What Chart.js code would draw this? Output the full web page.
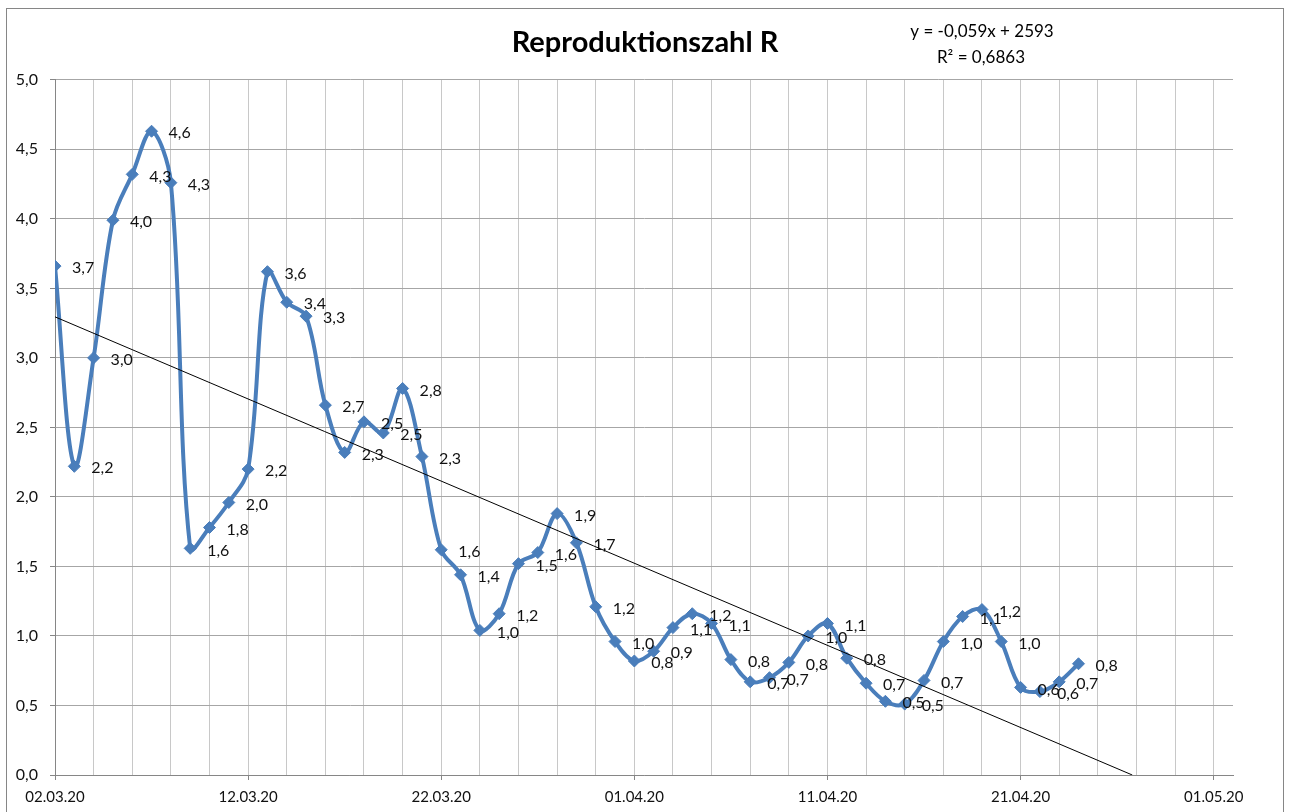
<!DOCTYPE html>
<html>
<head>
<meta charset="utf-8">
<script src="https://cdn.jsdelivr.net/npm/chart.js@4.4.0/dist/chart.umd.min.js"></script>
<style>
    html, body { margin: 0; padding: 0; background: #fff; }
    #wrap { width: 1290px; height: 812px; }
</style>
</head>
<body>
<div id="wrap"><canvas id="rChart" width="1290" height="812"></canvas></div>
<script>
// one value per day, starting 02.03.20
const rValues = [
    3.66, 2.22, 3.00, 3.99, 4.32, 4.63, 4.26, 1.63, 1.78, 1.96,
    2.20, 3.62, 3.40, 3.30, 2.66, 2.32, 2.54, 2.46, 2.78, 2.29,
    1.62, 1.44, 1.04, 1.16, 1.52, 1.60, 1.88, 1.67, 1.21, 0.96,
    0.82, 0.89, 1.06, 1.16, 1.09, 0.83, 0.67, 0.70, 0.81, 1.00,
    1.09, 0.84, 0.66, 0.53, 0.51, 0.68, 0.96, 1.14, 1.19, 0.96,
    0.63, 0.60, 0.67, 0.80
];
const tickDays = [0, 10, 20, 30, 40, 50, 60];
const tickLabels = ['02.03.20', '12.03.20', '22.03.20', '01.04.20', '11.04.20', '21.04.20', '01.05.20'];
const trendText = ['y = -0,059x + 2593', 'R\u00b2 = 0,6863'];

const fmt = v => v.toFixed(1).replace('.', ',');

// linear trend over the day index
const n = rValues.length;
const mx = (n - 1) / 2;
const my = rValues.reduce((a, b) => a + b, 0) / n;
let sxy = 0, sxx = 0;
rValues.forEach((v, i) => { sxy += (i - mx) * (v - my); sxx += (i - mx) * (i - mx); });
const slope = sxy / sxx;
const icpt = my - slope * mx;
const xZero = -icpt / slope;

const FONT = 'Lato';

const frame = {
    id: 'frame',
    beforeDraw(chart) {
        const ctx = chart.ctx;
        ctx.save();
        ctx.fillStyle = '#fff';
        ctx.fillRect(0, 0, chart.width, chart.height);
        ctx.strokeStyle = '#868686';
        ctx.lineWidth = 1;
        ctx.strokeRect(6.5, 8.5, 1277, 820);
        ctx.restore();
    },
    afterDraw(chart) {
        const ctx = chart.ctx;
        ctx.save();
        ctx.font = '17px ' + FONT;
        ctx.fillStyle = '#000';
        ctx.textAlign = 'center';
        ctx.textBaseline = 'middle';
        ctx.fillText(trendText[0], 982, 32);
        ctx.fillText(trendText[1], 981, 58);
        ctx.restore();
    }
};

const pointLabels = {
    id: 'pointLabels',
    afterDatasetsDraw(chart) {
        const meta = chart.getDatasetMeta(1);
        const ctx = chart.ctx;
        ctx.save();
        ctx.font = '16px ' + FONT;
        ctx.fillStyle = '#111';
        ctx.textBaseline = 'middle';
        meta.data.forEach((pt, i) => {
            ctx.fillText(fmt(rValues[i]), pt.x + 17, pt.y + 2);
        });
        ctx.restore();
    }
};

new Chart(document.getElementById('rChart'), {
    type: 'line',
    data: {
        datasets: [
            {
                label: 'Trend',
                data: [{ x: 0, y: icpt }, { x: xZero, y: 0 }],
                borderColor: '#000',
                borderWidth: 1,
                pointRadius: 0,
                tension: 0,
                order: 0
            },
            {
                label: 'R',
                data: rValues.map((v, i) => ({ x: i, y: v })),
                borderColor: '#4a7ebb',
                borderWidth: 4,
                tension: 0.35,
                pointStyle: 'rectRot',
                pointRadius: 6,
                pointBackgroundColor: '#4a7ebb',
                pointBorderColor: '#4a7ebb',
                pointBorderWidth: 1,
                order: 1
            }
        ]
    },
    options: {
        responsive: false,
        animation: false,
        plugins: {
            legend: { display: false },
            tooltip: { enabled: false },
            title: {
                display: true,
                text: 'Reproduktionszahl R',
                color: '#000',
                font: { family: FONT, size: 29, weight: 'bold' },
                padding: { top: 25, bottom: 20 }
            }
        },
        scales: {
            x: {
                type: 'linear',
                min: 0,
                max: 61,
                afterFit: s => { s.height = 37; },
                grid: {
                    color: c => (c.tick && c.tick.value > 60) ? 'rgba(0,0,0,0)' : '#c8c8c8',
                    tickColor: c => (c.tick && tickDays.includes(c.tick.value)) ? '#868686' : 'rgba(0,0,0,0)',
                    tickLength: 5
                },
                border: { color: '#868686' },
                ticks: {
                    stepSize: 2,
                    includeBounds: false,
                    autoSkip: false,
                    maxRotation: 0,
                    padding: 8,
                    color: '#111',
                    font: { family: FONT, size: 15 },
                    callback: v => {
                        const k = tickDays.indexOf(v);
                        return k >= 0 ? tickLabels[k] : '';
                    }
                }
            },
            y: {
                min: 0,
                max: 5,
                afterFit: s => { s.width = 55; },
                grid: { color: '#a6a6a6', tickColor: '#868686', tickLength: 5 },
                border: { color: '#868686' },
                ticks: {
                    stepSize: 0.5,
                    padding: 12,
                    color: '#111',
                    font: { family: FONT, size: 16 },
                    callback: v => fmt(v)
                }
            },
            // empty right margin so the title centres on the full width
            yRight: {
                position: 'right',
                min: 0,
                max: 5,
                afterFit: s => { s.width = 57; },
                grid: { display: false },
                border: { display: false },
                ticks: { display: false }
            }
        }
    },
    plugins: [frame, pointLabels]
});
</script>
</body>
</html>
